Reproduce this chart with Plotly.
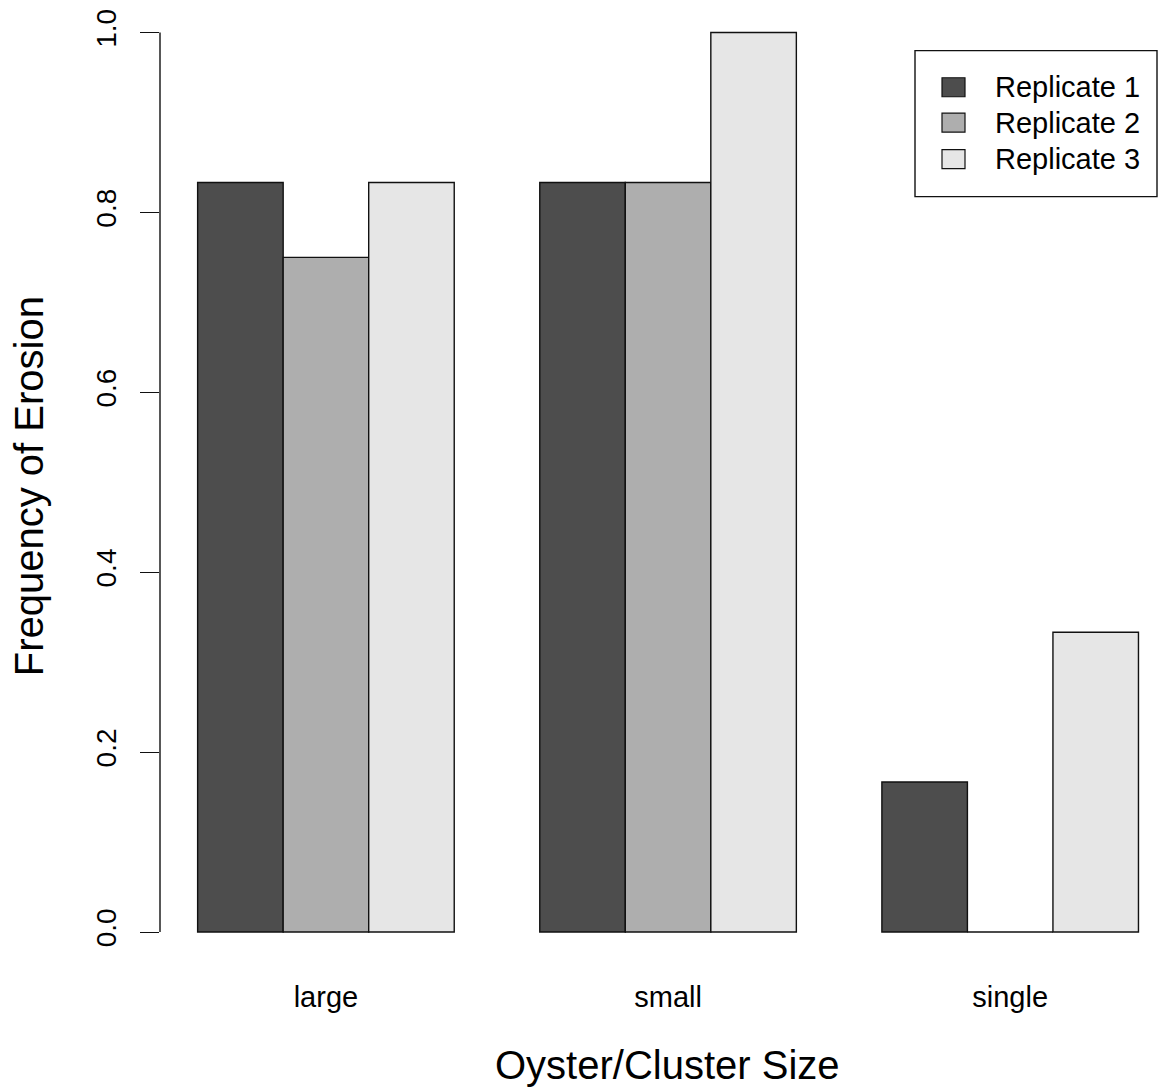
import plotly.graph_objects as go

categories = ["large", "small", "single"]
series_names = ["Replicate 1", "Replicate 2", "Replicate 3"]
rep1 = [0.8333, 0.8333, 0.1667]
rep2 = [0.75, 0.8333, 0.0]
rep3 = [0.8333, 1.0, 0.3333]
colors = ["#4D4D4D", "#AEAEAE", "#E6E6E6"]
y_ticks = [0.0, 0.2, 0.4, 0.6, 0.8, 1.0]
y_ticklabels = ["0.0", "0.2", "0.4", "0.6", "0.8", "1.0"]

series = [rep1, rep2, rep3]
FONT = "Arial, Liberation Sans, sans-serif"

W, H = 1159, 1091
L, R, T, B = 160, 0, 0, 122.5
pw, ph = W - L - R, H - T - B

fig = go.Figure()
for j, (name, vals, col) in enumerate(zip(series_names, series, colors)):
    xs = [1 + g * 4 + j + 0.5 for g in range(len(categories))]
    fig.add_trace(go.Bar(
        x=xs, y=vals, width=1, name=name,
        marker=dict(color=col, line=dict(color="#111111", width=1.4)),
        showlegend=False,
    ))

group_centers = [1 + g * 4 + 1.5 for g in range(len(categories))]

def px_x(p):
    return (p - L) / pw

def px_y(p):
    return (H - B - p) / ph

shapes = [
    dict(type="line", xref="paper", yref="y", x0=0, x1=0, y0=0, y1=1,
         line=dict(color="#111111", width=1.4)),
    dict(type="rect", xref="paper", yref="paper",
         x0=px_x(915), x1=px_x(1157), y0=px_y(196.7), y1=px_y(50.7),
         line=dict(color="#111111", width=1.4), fillcolor="white"),
]
annotations = []
row_centers = [87.3, 122.7, 159.3]
for name, col, yc in zip(series_names, colors, row_centers):
    shapes.append(dict(type="rect", xref="paper", yref="paper",
                       x0=px_x(942), x1=px_x(965), y0=px_y(yc + 9.5), y1=px_y(yc - 9.5),
                       line=dict(color="#111111", width=1.2), fillcolor=col))
    annotations.append(dict(text=name, xref="paper", yref="paper",
                            x=px_x(993), y=px_y(yc), xanchor="left", yanchor="middle",
                            showarrow=False, font=dict(family=FONT, size=29, color="black")))

annotations.append(dict(text="Frequency of Erosion", xref="paper", yref="paper",
                        x=px_x(29), y=px_y(486.5), xanchor="center", yanchor="middle",
                        textangle=-90, showarrow=False,
                        font=dict(family=FONT, size=40, color="black")))
annotations.append(dict(text="Oyster/Cluster Size", xref="paper", yref="paper",
                        x=px_x(667), y=px_y(1066), xanchor="center", yanchor="middle",
                        showarrow=False, font=dict(family=FONT, size=40, color="black")))

fig.update_layout(
    width=W, height=H,
    margin=dict(l=L, r=R, t=T, b=B, pad=0),
    paper_bgcolor="white", plot_bgcolor="white",
    barmode="overlay",
    shapes=shapes, annotations=annotations,
    xaxis=dict(range=[0.56, 12.24], tickmode="array", tickvals=group_centers,
               ticktext=categories, ticks="", showgrid=False, zeroline=False,
               showline=False, ticklabelstandoff=9,
               tickfont=dict(family=FONT, size=29, color="black")),
    yaxis=dict(range=[-0.04, 1 + 32.5 / 900], tickmode="array", tickvals=y_ticks,
               ticktext=y_ticklabels, ticks="outside", ticklen=19, tickwidth=1.4,
               tickcolor="#111111", tickangle=-90, showgrid=False, zeroline=False,
               showline=False, ticklabelstandoff=13,
               tickfont=dict(family=FONT, size=28, color="black")),
)

fig.write_html(
    "out.html",
    config={"displayModeBar": False},
    post_script="document.body.style.margin='0';document.body.style.overflow='hidden';",
)
